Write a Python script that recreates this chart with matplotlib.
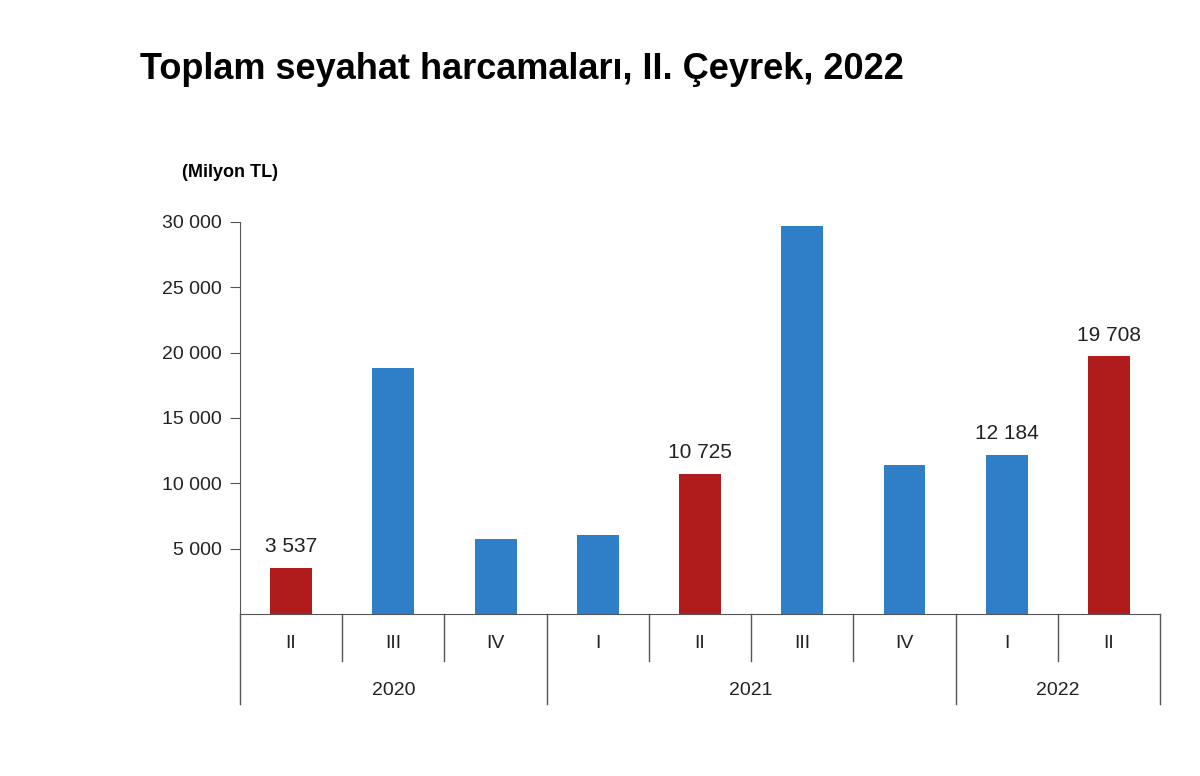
import matplotlib
matplotlib.use("Agg")
import matplotlib.pyplot as plt

quarters = ["II", "III", "IV", "I", "II", "III", "IV", "I", "II"]
years = ["2020", "2021", "2022"]
year_spans = [(0, 3), (3, 7), (7, 9)]
values = [3537, 18850, 5700, 6050, 10725, 29700, 11400, 12184, 19708]
highlight = [True, False, False, False, True, False, False, False, True]
labels = {0: "3 537", 4: "10 725", 7: "12 184", 8: "19 708"}

plt.rcParams['font.family'] = ['Liberation Sans', 'DejaVu Sans']
fig = plt.figure(figsize=(12, 7.76), dpi=100)
ax = fig.add_axes([0.2, 0.2088, 0.7667, 0.5052])
x = range(len(values))
colors = ["#b01c1c" if h else "#2e7fc7" for h in highlight]
ax.bar(x, values, width=0.41, color=colors)
ax.set_xlim(-0.5, len(values) - 0.5)
ax.set_ylim(0, 30000)
ax.set_yticks(range(5000, 30001, 5000))
ax.set_yticklabels([f"{v:,}".replace(",", " ") for v in range(5000, 30001, 5000)], fontsize=14, color="#222222")
ax.set_xticks([])
for s in ["top", "right"]:
    ax.spines[s].set_visible(False)
ax.spines["left"].set_color("#555555")
ax.spines["bottom"].set_color("#555555")
ax.tick_params(axis="y", length=7, color="#555555", pad=6)
for i, t in labels.items():
    ax.text(i, values[i] + 900, t, ha="center", va="bottom", fontsize=15, color="#222222")
tr = ax.get_xaxis_transform()
for b in range(len(values) + 1):
    pos = b - 0.5
    depth = -0.23 if b in (0, 3, 7, 9) else -0.12
    ax.plot([pos, pos], [0, depth], transform=tr, color="#555555", lw=1, clip_on=False)
for i, q in enumerate(quarters):
    ax.text(i, -0.075, q, transform=tr, ha="center", va="center", fontsize=14, color="#222222")
for y, (a, b) in zip(years, year_spans):
    ax.text((a + b - 1) / 2, -0.195, y, transform=tr, ha="center", va="center", fontsize=14, color="#222222")
fig.text(0.1165, 0.91, "Toplam seyahat harcamaları, II. Çeyrek, 2022", fontsize=26, fontweight="bold", va="center")
fig.text(0.152, 0.778, "(Milyon TL)", fontsize=13, fontweight="bold", va="center")
fig.savefig("out.png")
